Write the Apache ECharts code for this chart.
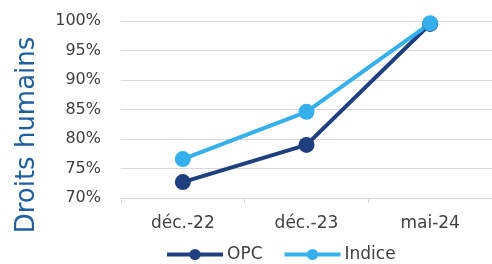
<!DOCTYPE html>
<html>
<head>
<meta charset="utf-8">
<script src="https://cdn.jsdelivr.net/npm/echarts@6/dist/echarts.min.js"></script>
<style>
html, body { margin: 0; padding: 0; background: #fff; }
#main { width: 492px; height: 264px; }
</style>
</head>
<body>
<div id="main"></div>
<script>
// categories and series
var periods = ['déc.-22', 'déc.-23', 'mai-24'];
var opc = [72.7, 79.0, 99.5];
var indice = [76.6, 84.6, 99.6];
var axisTitle = 'Droits humains';

var chart = echarts.init(document.getElementById('main'));

var option = {
    animation: false,
    textStyle: { fontFamily: 'DejaVu Sans' },
    grid: { left: 121, top: 21, width: 375, height: 177, containLabel: false },
    graphic: [{
        type: 'text',
        x: 27,
        y: 135,
        rotation: Math.PI / 2,
        style: {
            text: axisTitle,
            fontFamily: 'DejaVu Sans',
            fontSize: 26,
            fill: '#1f5fa0',
            align: 'center',
            verticalAlign: 'middle'
        }
    }],
    legend: {
        top: 241,
        left: 160,
        itemWidth: 56,
        itemHeight: 14,
        itemGap: 20,
        lineStyle: { width: 4 },
        textStyle: { fontSize: 17, color: '#404040', padding: [0, 0, 0, -1] },
        data: ['OPC', 'Indice']
    },
    xAxis: {
        type: 'category',
        data: periods,
        axisLine: { lineStyle: { color: '#d9d9d9', width: 1 } },
        axisTick: { show: true, lineStyle: { color: '#d9d9d9' }, length: 5 },
        axisLabel: { fontSize: 17, color: '#404040', margin: 17 }
    },
    yAxis: {
        type: 'value',
        min: 70,
        max: 100,
        interval: 5,
        axisLine: { show: false },
        axisTick: { show: false },
        axisLabel: { fontSize: 16, color: '#404040', margin: 20, formatter: '{value}%' },
        splitLine: { lineStyle: { color: '#d9d9d9', width: 1 } }
    },
    series: [
        {
            name: 'OPC',
            type: 'line',
            data: opc,
            symbol: 'circle',
            symbolSize: 16,
            lineStyle: { width: 4, color: '#1f3f7f' },
            itemStyle: { color: '#1f3f7f' }
        },
        {
            name: 'Indice',
            type: 'line',
            data: indice,
            symbol: 'circle',
            symbolSize: 16,
            lineStyle: { width: 4, color: '#35b0ec' },
            itemStyle: { color: '#35b0ec' }
        }
    ]
};

chart.setOption(option);
</script>
</body>
</html>
